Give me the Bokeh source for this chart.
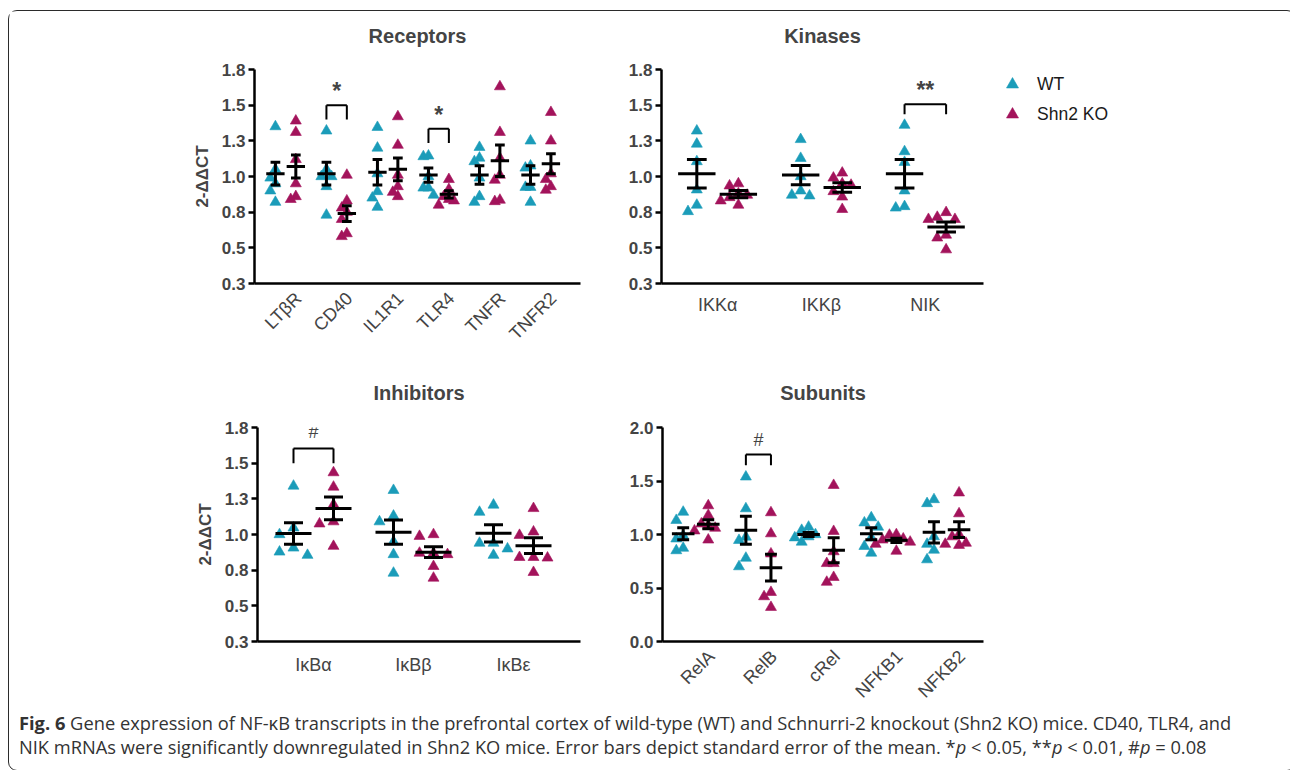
import math
from bokeh.plotting import figure
from bokeh.models import Range1d, FixedTicker, Legend, LegendItem, Label, Div, Title
from bokeh.layouts import column, row
from bokeh.embed import file_html
from bokeh.resources import INLINE

TEAL = "#1b9cb9"
MAG = "#a3135b"
FONT = "Liberation Sans"

# ---------------- data (2-ΔΔCT) ----------------
receptor_genes = ["LTβR", "CD40", "IL1R1", "TLR4", "TNFR", "TNFR2"]
receptor_wt = [
    [1.35, 1.05, 0.99, 0.95, 0.90, 0.82],
    [1.32, 1.05, 1.00, 1.00, 0.93, 0.73],
    [1.345, 1.20, 1.02, 0.895, 0.85, 0.785],
    [1.14, 1.145, 1.00, 0.92, 0.92, 0.87],
    [1.205, 1.13, 1.105, 0.99, 0.86, 0.82],
    [1.25, 1.075, 1.06, 0.925, 0.925, 0.82],
]
receptor_ko = [
    [1.39, 1.31, 1.12, 0.95, 0.86, 0.84],
    [1.01, 0.83, 0.78, 0.75, 0.70, 0.60, 0.58],
    [1.42, 1.22, 1.01, 0.93, 0.89, 0.86],
    [0.98, 0.91, 0.86, 0.84, 0.83, 0.80],
    [1.63, 1.31, 1.13, 1.01, 0.975, 0.835, 0.825],
    [1.45, 1.25, 1.02, 0.98, 0.93, 0.905],
]
receptor_wt_mean = [1.02, 1.02, 1.03, 1.01, 1.01, 1.01]
receptor_wt_sem = [0.08, 0.08, 0.09, 0.05, 0.065, 0.065]
receptor_ko_mean = [1.07, 0.74, 1.05, 0.875, 1.11, 1.09]
receptor_ko_sem = [0.08, 0.055, 0.08, 0.025, 0.11, 0.07]

kinase_genes = ["IKKα", "IKKβ", "NIK"]
kinase_wt = [
    [1.32, 1.228, 1.105, 0.907, 0.80, 0.755],
    [1.26, 1.128, 1.00, 0.90, 0.87, 0.865],
    [1.36, 1.175, 1.10, 0.90, 0.79, 0.78],
]
kinase_ko = [
    [0.95, 0.935, 0.88, 0.87, 0.853, 0.83, 0.80],
    [1.025, 0.99, 0.95, 0.94, 0.895, 0.857, 0.77],
    [0.748, 0.715, 0.70, 0.70, 0.59, 0.57, 0.487],
]
kinase_wt_mean = [1.02, 1.01, 1.02]
kinase_wt_sem = [0.10, 0.067, 0.10]
kinase_ko_mean = [0.876, 0.923, 0.646]
kinase_ko_sem = [0.025, 0.033, 0.035]

inhibitor_genes = ["IκBα", "IκBβ", "IκBε"]
inhibitor_wt = [
    [1.34, 1.047, 1.00, 0.906, 0.878, 0.855],
    [1.31, 1.13, 1.09, 0.95, 0.86, 0.73],
    [1.207, 1.157, 0.94, 0.94, 0.90, 0.855],
]
inhibitor_ko = [
    [1.434, 1.333, 1.21, 1.09, 1.075, 0.918],
    [1.00, 0.988, 0.87, 0.87, 0.86, 0.777, 0.695],
    [1.183, 1.019, 0.995, 0.84, 0.84, 0.836, 0.735],
]
inhibitor_wt_mean = [1.007, 1.016, 1.008]
inhibitor_wt_sem = [0.075, 0.085, 0.06]
inhibitor_ko_mean = [1.183, 0.876, 0.922]
inhibitor_ko_sem = [0.079, 0.038, 0.056]

subunit_genes = ["RelA", "RelB", "cRel", "NFKB1", "NFKB2"]
subunit_wt = [
    [1.21, 1.133, 0.99, 0.96, 0.873, 0.85],
    [1.539, 1.242, 0.977, 0.946, 0.78, 0.70],
    [1.07, 1.04, 1.00, 0.98, 0.97, 0.93],
    [1.158, 1.11, 1.07, 0.97, 0.89, 0.827],
    [1.327, 1.29, 0.98, 0.91, 0.855, 0.765],
]
subunit_ko = [
    [1.27, 1.18, 1.10, 1.085, 1.06, 1.035, 0.95],
    [1.205, 1.008, 0.82, 0.46, 0.42, 0.32],
    [1.46, 1.03, 0.84, 0.73, 0.73, 0.60, 0.555],
    [1.00, 0.995, 0.96, 0.95, 0.93, 0.91, 0.845],
    [1.39, 1.195, 1.00, 0.98, 0.92, 0.91, 0.90],
]
subunit_wt_mean = [1.008, 1.04, 1.00, 1.008, 1.02]
subunit_wt_sem = [0.056, 0.13, 0.018, 0.056, 0.10]
subunit_ko_mean = [1.095, 0.69, 0.852, 0.946, 1.045]
subunit_ko_sem = [0.042, 0.125, 0.117, 0.02, 0.074]

# significance annotations: (gene index, bracket top, leg bottom, text, text y)
receptor_sig = [(1, 1.50, 1.40, "*", 1.60), (3, 1.335, 1.235, "*", 1.43)]
kinase_sig = [(2, 1.507, 1.437, "**", 1.605)]
inhibitor_sig = [(0, 1.602, 1.50, "#", 1.715)]
subunit_sig = [(1, 1.747, 1.647, "#", 1.88)]

y_ticks_a = [0.25, 0.5, 0.75, 1.0, 1.25, 1.5, 1.75]
y_labels_a = ["0.3", "0.5", "0.8", "1.0", "1.3", "1.5", "1.8"]
y_ticks_b = [0.0, 0.5, 1.0, 1.5, 2.0]
y_labels_b = ["0.0", "0.5", "1.0", "1.5", "2.0"]
legend_labels = ["WT", "Shn2 KO"]


def swarm(vals, step, h):
    order = sorted(range(len(vals)), key=lambda i: -vals[i])
    placed = []
    res = [0.0] * len(vals)
    for i in order:
        v = vals[i]
        chosen = 0
        for k in [0, -1, 1, -2, 2, -3, 3]:
            if all(not (pk == k and abs(pv - v) < h) for pk, pv in placed):
                chosen = k
                break
        placed.append((chosen, v))
        res[i] = chosen * step
    return res


def panel(title, genes, wt, ko, wtm, wts, kom, kos, sig, *, xr, yr, yt, yl, width, height,
          mb, ylabel, rotate, step, h, shift, spacer, xstand):
    p = figure(width=width, height=height, x_range=Range1d(*xr), y_range=Range1d(*yr),
               output_backend="svg", toolbar_location=None,
               min_border_left=mb[0], min_border_right=mb[1], min_border_top=mb[2],
               min_border_bottom=mb[3])
    p.outline_line_color = None
    p.grid.visible = False
    # spacer (closest to the frame) then the visible title above it
    p.add_layout(Title(text=" ", text_font_size="10px", standoff=spacer), "above")
    p.add_layout(Title(text=title, align="center", text_font=FONT, text_font_size="20px",
                       text_font_style="bold", standoff=2), "above")

    ya = p.yaxis[0]
    ya.ticker = FixedTicker(ticks=yt)
    ya.major_label_overrides = dict(zip(yt, yl))
    ya.axis_line_width = 2.5
    ya.major_tick_line_width = 2.5
    ya.major_tick_out = 6
    ya.major_tick_in = 0
    ya.minor_tick_line_color = None
    ya.major_label_text_font = FONT
    ya.major_label_text_font_size = "17px"
    ya.major_label_text_font_style = "bold"
    ya.major_label_standoff = 3
    if ylabel:
        ya.axis_label = ylabel
        ya.axis_label_text_font = FONT
        ya.axis_label_text_font_size = "17px"
        ya.axis_label_text_font_style = "bold"
        ya.axis_label_standoff = 7

    xa = p.xaxis[0]
    xt = [i + shift for i in range(len(genes))]
    xa.ticker = FixedTicker(ticks=xt)
    xa.major_label_overrides = dict(zip(xt, genes))
    xa.axis_line_width = 2.5
    xa.major_tick_line_color = None
    xa.minor_tick_line_color = None
    xa.major_label_text_font = FONT
    xa.major_label_text_font_size = "18px"
    xa.major_label_text_font_style = "normal"
    xa.major_label_standoff = xstand
    if rotate:
        xa.major_label_orientation = math.pi / 4

    rends = []
    for vals_list, off, color in ((wt, -0.2, TEAL), (ko, 0.2, MAG)):
        xs, ys = [], []
        for i, vals in enumerate(vals_list):
            jit = swarm(vals, step, h)
            xs += [i + off + j for j in jit]
            ys += list(vals)
        r = p.scatter(x=xs, y=ys, marker="triangle", size=11, fill_color=color,
                      line_color=color, line_alpha=0.6)
        rends.append(r)

    sx0, sx1, sy0, sy1 = [], [], [], []
    for means, sems, off in ((wtm, wts, -0.2), (kom, kos, 0.2)):
        for i, (m, s) in enumerate(zip(means, sems)):
            c = i + off
            sx0 += [c - 0.18, c - 0.095, c - 0.095, c]
            sx1 += [c + 0.18, c + 0.095, c + 0.095, c]
            sy0 += [m, m + s, m - s, m - s]
            sy1 += [m, m + s, m - s, m + s]
    p.segment(x0=sx0, y0=sy0, x1=sx1, y1=sy1, line_color="black", line_width=3,
              line_cap="butt")

    for gi, top, bot, txt, ty in sig:
        a, b = gi - 0.2, gi + 0.2
        p.segment(x0=[a, a, b], y0=[top, top, top], x1=[b, a, b], y1=[top, bot, bot],
                  line_color="black", line_width=2)
        star = "*" in txt
        p.add_layout(Label(x=gi, y=ty, text=txt, text_align="center", text_baseline="middle",
                           text_font=FONT, text_font_size="23px" if star else "18px",
                           text_font_style="bold" if star else "normal"))
    return p, rends


p1, _ = panel("Receptors", receptor_genes, receptor_wt, receptor_ko, receptor_wt_mean,
              receptor_wt_sem, receptor_ko_mean, receptor_ko_sem, receptor_sig,
              xr=(-0.61, 5.78), yr=(0.25, 1.75), yt=y_ticks_a, yl=y_labels_a,
              width=591, height=360, mb=(245, 20, 58, 88), ylabel="2-ΔΔCT", rotate=True,
              step=0.1, h=0.068, shift=0.25, spacer=9, xstand=6)
p2, r2 = panel("Kinases", kinase_genes, kinase_wt, kinase_ko, kinase_wt_mean, kinase_wt_sem,
               kinase_ko_mean, kinase_ko_sem, kinase_sig,
               xr=(-0.54, 2.56), yr=(0.25, 1.75), yt=y_ticks_a, yl=y_labels_a,
               width=393, height=360, mb=(61, 10, 58, 88), ylabel=None, rotate=False,
               step=0.085, h=0.068, shift=0.0, spacer=9, xstand=5)
p3, _ = panel("Inhibitors", inhibitor_genes, inhibitor_wt, inhibitor_ko, inhibitor_wt_mean,
              inhibitor_wt_sem, inhibitor_ko_mean, inhibitor_ko_sem, inhibitor_sig,
              xr=(-0.56, 2.67), yr=(0.25, 1.75), yt=y_ticks_a, yl=y_labels_a,
              width=591, height=342, mb=(248, 20, 56, 72), ylabel="2-ΔΔCT", rotate=False,
              step=0.14, h=0.068, shift=0.0, spacer=10, xstand=7)
p4, _ = panel("Subunits", subunit_genes, subunit_wt, subunit_ko, subunit_wt_mean,
              subunit_wt_sem, subunit_ko_mean, subunit_ko_sem, subunit_sig,
              xr=(-0.53, 4.59), yr=(0.0, 2.0), yt=y_ticks_b, yl=y_labels_b,
              width=685, height=342, mb=(62, 302, 56, 72), ylabel=None, rotate=True,
              step=0.11, h=0.09, shift=0.25, spacer=10, xstand=6)

# legend panel (to the right of Kinases)
pl = figure(width=292, height=360, x_range=Range1d(0, 1), y_range=Range1d(0, 1),
            x_axis_type=None, y_axis_type=None, output_backend="svg",
            toolbar_location=None, min_border_left=0, min_border_right=0,
            min_border_top=58, min_border_bottom=0)
pl.outline_line_color = None
pl.grid.visible = False
lr = [pl.scatter(x=[-10], y=[-10], marker="triangle", size=11, fill_color=c, line_color=c,
                 line_alpha=0.6) for c in (TEAL, MAG)]
legend = Legend(items=[LegendItem(label=t, renderers=[r]) for t, r in zip(legend_labels, lr)],
                location="top_left", border_line_color=None, background_fill_alpha=0,
                label_text_font=FONT, label_text_font_size="17.5px", label_text_color="#1a1a1a",
                glyph_width=38, glyph_height=30, spacing=0, label_standoff=6, padding=0,
                margin=0)
pl.add_layout(legend, "center")

caption = Div(
    text='<div style="padding-left:5px; position:relative; top:-7px;">'
         '<b>Fig. 6</b> Gene expression of NF-κB transcripts in the prefrontal cortex of '
         'wild-type (WT) and Schnurri-2 knockout (Shn2 KO) mice. CD40, TLR4, and<br>'
         'NIK mRNAs were significantly downregulated in Shn2 KO mice. Error bars depict '
         'standard error of the mean. *<i>p</i> &lt; 0.05, **<i>p</i> &lt; 0.01, '
         '#<i>p</i> = 0.08</div>',
    width=1276, height=47,
    styles={"font-family": "Open Sans", "font-size": "18.3px", "line-height": "24px",
            "color": "#333333", "white-space": "nowrap"})

layout = column(row(p1, p2, pl), row(p3, p4), caption,
                styles={"border": "1px solid #2b2b2b", "border-radius": "9px",
                        "margin-left": "8px", "margin-top": "10px"})

open("out.html", "w").write(file_html(layout, INLINE))
